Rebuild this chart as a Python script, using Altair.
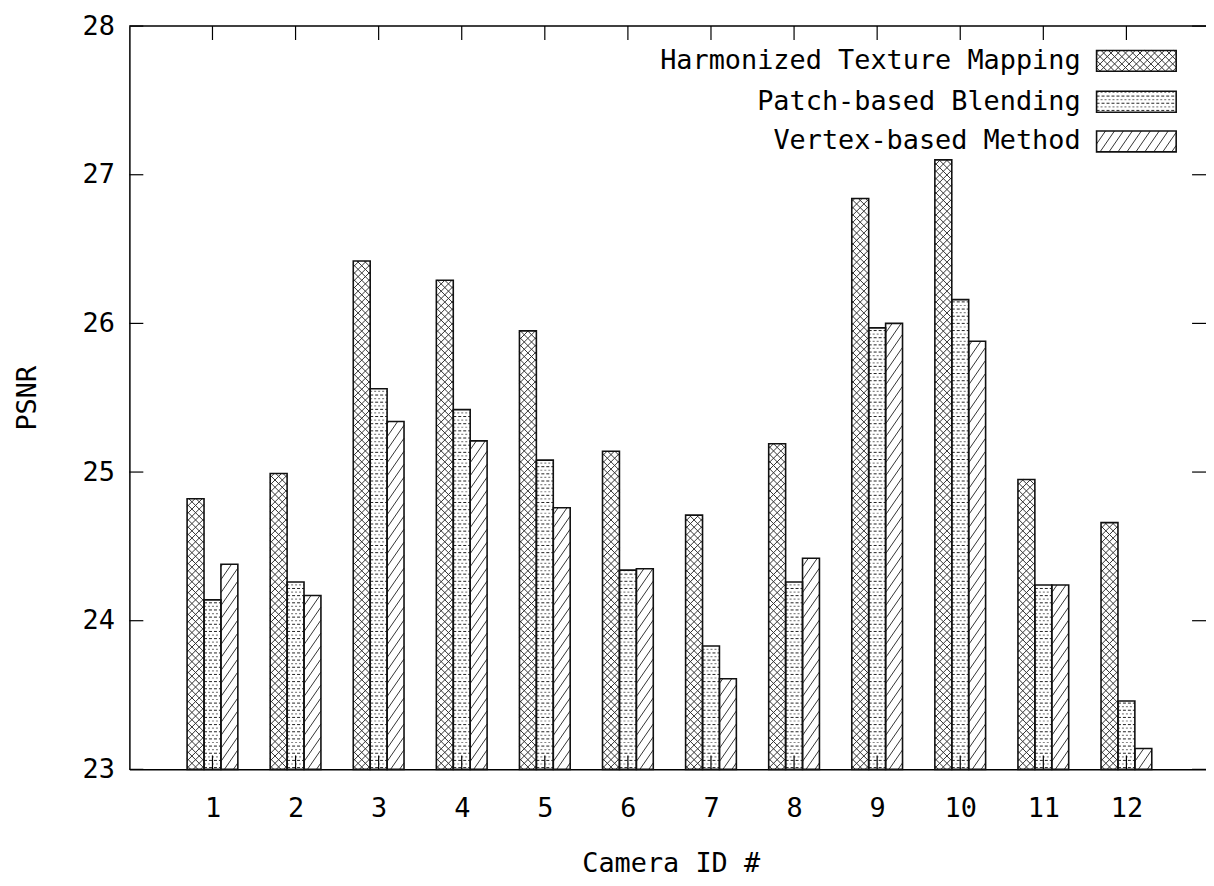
import altair as alt
import numpy as np
import pandas as pd

# ---------------- data ----------------
cameras = list(range(1, 13))
harmonized = [24.82, 24.99, 26.42, 26.29, 25.95, 25.14, 24.71, 25.19, 26.84, 27.10, 24.95, 24.66]
patch = [24.14, 24.26, 25.56, 25.42, 25.08, 24.34, 23.83, 24.26, 25.97, 26.16, 24.24, 23.46]
vertex = [24.38, 24.17, 25.34, 25.21, 24.76, 24.35, 23.61, 24.42, 26.00, 25.88, 24.24, 23.14]
series_names = ["Harmonized Texture Mapping", "Patch-based Blending", "Vertex-based Method"]
y_ticks = [23, 24, 25, 26, 27, 28]

# ---------------- layout / style ----------------
FONT = "DejaVu Sans Mono"
FS = 27
W, H = 1082, 747
XMAX = 12.958
YMIN, YMAX = 23, 28
KX = W / XMAX            # px per x unit
KY = H / (YMAX - YMIN)   # px per y unit
BAR_W = 17 / KX          # bar width in data units
patterns = ["cross", "dots", "slash"]

X = alt.Scale(domain=[0, XMAX], nice=False, zero=False)
Y = alt.Scale(domain=[YMIN, YMAX], nice=False, zero=False)

x_axis = alt.Axis(values=cameras, format="d", ticks=False, tickSize=0, grid=False,
                  labelPadding=39, labelBaseline="middle", labelFlush=False,
                  labelOverlap=False, title="Camera ID #", titleX=W / 2 + 3,
                  titleY=95, titleBaseline="middle", titleAlign="center")
y_axis = alt.Axis(values=y_ticks, ticks=False, tickSize=0, grid=False,
                  labelPadding=15, labelFlush=False, labelOverlap=False,
                  title="PSNR", titleX=-102, titleY=H / 2, titleAngle=-90,
                  titleBaseline="middle", titleAlign="center")


def xq(field):
    return alt.X(field, type="quantitative", scale=X, axis=x_axis)


def yq(field):
    return alt.Y(field, type="quantitative", scale=Y, axis=y_axis)


def diag_lines(x0, x1, y0, y1, slope, spacing):
    w = (x1 - x0) * KX
    h = (y1 - y0) * KY
    out = []
    step = abs(slope) * spacing
    if slope > 0:
        cs = np.arange(-slope * w + step / 2, h, step)
    else:
        cs = np.arange(step / 2, h + abs(slope) * w, step)
    for c in cs:
        if slope > 0:
            ulo = max(0.0, -c / slope)
            uhi = min(w, (h - c) / slope)
        else:
            m = -slope
            ulo = max(0.0, (c - h) / m)
            uhi = min(w, c / m)
        if uhi - ulo > 0.3:
            vlo = slope * ulo + c
            vhi = slope * uhi + c
            out.append({"x": x0 + ulo / KX, "y": y0 + vlo / KY,
                        "x2": x0 + uhi / KX, "y2": y0 + vhi / KY})
    return out


def dot_rows(x0, x1, y0, y1, spacing):
    h = (y1 - y0) * KY
    dark, light = [], []
    for i, v in enumerate(np.arange(spacing / 2, h, spacing)):
        row = {"x": x0, "x2": x1, "y": y0 + v / KY}
        (dark if i % 2 == 0 else light).append(row)
    return dark, light


rects, hatch, dots_dark, dots_light = [], [], [], []


def add_rect(x0, x1, y0, y1, pat):
    rects.append({"x0": x0, "x1": x1, "y0": y0, "y1": y1})
    if pat == "cross":
        hatch.extend(diag_lines(x0, x1, y0, y1, 1.0, 7.3))
        hatch.extend(diag_lines(x0, x1, y0, y1, -1.0, 7.3))
    elif pat == "slash":
        hatch.extend(diag_lines(x0, x1, y0, y1, 1.45, 9.0))
    else:
        d, l = dot_rows(x0, x1, y0, y1, 3.6)
        dots_dark.extend(d)
        dots_light.extend(l)


for s, vals in enumerate([harmonized, patch, vertex]):
    for c, v in zip(cameras, vals):
        x0 = c + (s - 1.5) * BAR_W
        add_rect(x0, x0 + BAR_W, YMIN, v, patterns[s])

# legend (placed in data space at the upper right)
leg_y = [27.766, 27.491, 27.224]
leg_x_text = 11.449
leg_x0, leg_x1 = 11.641, 12.599
leg_half = 10.5 / KY
for s in range(3):
    add_rect(leg_x0, leg_x1, leg_y[s] - leg_half, leg_y[s] + leg_half, patterns[s])

rects_df = pd.DataFrame(rects)
hatch_df = pd.DataFrame(hatch)
dark_df = pd.DataFrame(dots_dark)
light_df = pd.DataFrame(dots_light)
legend_df = pd.DataFrame({"name": series_names, "lx": [leg_x_text] * 3, "ly": leg_y})
ytick_df = pd.DataFrame({"v": y_ticks})
xtick_df = pd.DataFrame({"c": cameras})
one_df = pd.DataFrame({"a": [0]})

fill_layer = alt.Chart(rects_df).mark_rect(fill="white").encode(
    x=xq("x0"), x2="x1", y=yq("y0"), y2="y1")

hatch_layer = alt.Chart(hatch_df).mark_rule(color="#333", strokeWidth=1).encode(
    x=xq("x"), x2="x2", y=yq("y"), y2="y2")

dark_layer = alt.Chart(dark_df).mark_rule(color="#222", strokeWidth=1, strokeDash=[3, 2]).encode(
    x=xq("x"), x2="x2", y=yq("y"))

light_layer = alt.Chart(light_df).mark_rule(color="#888", strokeWidth=1.2, strokeDash=[2, 2]).encode(
    x=xq("x"), x2="x2", y=yq("y"))

outline_layer = alt.Chart(rects_df).mark_rect(filled=False, stroke="#111", strokeWidth=1.6).encode(
    x=xq("x0"), x2="x1", y=yq("y0"), y2="y1")

ytick_left = alt.Chart(ytick_df).mark_rule(color="black", strokeWidth=1.2).encode(
    y=yq("v"), x=alt.value(0), x2=alt.value(14))
ytick_right = alt.Chart(ytick_df).mark_rule(color="black", strokeWidth=1.2).encode(
    y=yq("v"), x=alt.value(W - 14), x2=alt.value(W))
xtick_bottom = alt.Chart(xtick_df).mark_rule(color="black", strokeWidth=1.2).encode(
    x=xq("c"), y=alt.value(H), y2=alt.value(H - 14))
xtick_top = alt.Chart(xtick_df).mark_rule(color="black", strokeWidth=1.2).encode(
    x=xq("c"), y=alt.value(0), y2=alt.value(14))
top_border = alt.Chart(one_df).mark_rule(color="black", strokeWidth=1.5).encode(
    x=alt.value(0), x2=alt.value(W), y=alt.value(0))

legend_text = alt.Chart(legend_df).mark_text(
    align="right", baseline="middle", font=FONT, fontSize=FS, color="black").encode(
    x=xq("lx"), y=yq("ly"), text="name:N")

chart = alt.layer(
    fill_layer, hatch_layer, dark_layer, light_layer, outline_layer,
    ytick_left, ytick_right, xtick_bottom, xtick_top, top_border, legend_text
).properties(
    width=W, height=H,
    autosize=alt.AutoSizeParams(type="none"),
    padding={"left": 122, "top": 16, "right": 0, "bottom": 106},
).configure_view(stroke=None).configure_axis(
    labelFont=FONT, labelFontSize=FS, labelColor="black",
    titleFont=FONT, titleFontSize=FS, titleColor="black", titleFontWeight="normal",
    domainColor="black", domainWidth=1.5,
)

chart.save("out.html", embed_options={"renderer": "svg", "actions": False})
